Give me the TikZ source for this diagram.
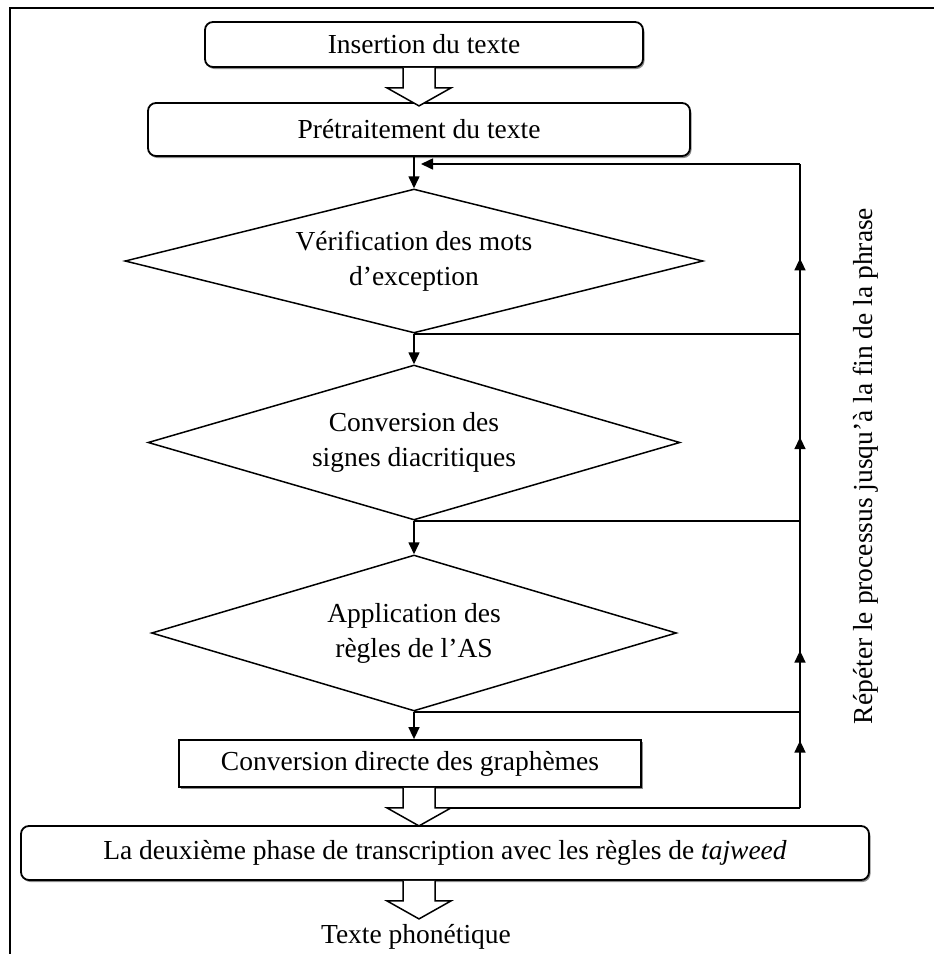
\documentclass[tikz,border=0pt]{standalone}
\usepackage{fontspec}
\setmainfont{Liberation Serif}
\usetikzlibrary{arrows.meta,calc,shapes.geometric,shadows}

\tikzset{
  txt/.style={font=\fontsize{27.5}{35}\selectfont},
  boxshadow/.style={drop shadow={shadow xshift=1.5pt, shadow yshift=-2pt, fill=black, opacity=0.45}},
  roundbox/.style={txt, draw, fill=white, line width=1.8pt, rounded corners=8pt, inner sep=0pt, boxshadow},
  plainbox/.style={txt, draw, fill=white, line width=1.8pt, inner sep=0pt, boxshadow},
  test/.style={txt, draw, line width=1.5pt, shape=diamond, inner sep=0pt, align=center},
  link/.style={line width=1.6pt},
  arr/.style={line width=1.6pt, -{Triangle[length=12pt,width=11pt]}},
  pics/hollow/.style={code={
    \draw[line width=1.5pt, fill=white]
      (-16,0) -- (-16,20) -- (-32,20) -- (0,38) -- (32,20) -- (16,20) -- (16,0);
    \coordinate (-rc) at (32,20);
  }}
}

\begin{document}
\begin{tikzpicture}[x=1pt,y=-1pt]
\useasboundingbox (0,0) rectangle (934,954);
\fill[white] (0,0) rectangle (934,954);

% outer frame
\draw[line width=2pt] (10,954) -- (10,8) -- (934,8);

% main column
\coordinate (axis) at (419,0);

\node[roundbox, minimum width=438, minimum height=45] (b1) at (424,44.5) {Insertion du texte};
\node[roundbox, minimum width=542, minimum height=53] (b2) at (419,129.5) {Prétraitement du texte};

\node[test, aspect=4.01, minimum width=578, minimum height=144] (d1) at (414,261)
  {Vérification des mots\\d’exception};
\node[test, aspect=3.43, minimum width=532, minimum height=155] (d2) at (414,442.5)
  {Conversion des\\signes diacritiques};
\node[test, aspect=3.37, minimum width=525, minimum height=156] (d3) at (414,633)
  {Application des\\règles de l’AS};

\node[plainbox, minimum width=462, minimum height=47] (b4) at (410,763.5)
  {Conversion directe des graphèmes};
\node[roundbox, minimum width=848, minimum height=54] (b5) at (445,853)
  {La deuxième phase de transcription avec les règles de \textit{tajweed}};

\node[txt, inner sep=0pt] (out) at (416,937) {Texte phonétique};

% block arrows between the stages
\pic (ha1) at (axis |- b1.south) {hollow};
\pic (ha2) at (axis |- b4.south) {hollow};
\pic (ha3) at (axis |- b5.south) {hollow};

% thin arrows through the tests
\draw[arr] (d1.north |- b2.south) -- (d1.north);
\draw[arr] (d1.south) -- (d2.north);
\draw[arr] (d2.south) -- (d3.north);
\draw[arr] (d3.south) -- (d3.south |- b4.north);

% loop back on the right
\coordinate (r0) at (800,164);
\coordinate (r1) at (r0 |- d1.south);
\coordinate (r2) at (r0 |- d2.south);
\coordinate (r3) at (r0 |- d3.south);
\coordinate (r4) at (r0 |- ha2-rc);

\draw[link] (d1.south) -- (r1);
\draw[link] (d2.south) -- (r2);
\draw[link] (d3.south) -- (r3);
\draw[link] (ha2-rc) -- (r4);
\draw[link] (r4) -- (r0);

\draw[arr] (r1) -- ($(r1)!0.444!(r0)$);
\draw[arr] (r2) -- ($(r2)!0.447!(r1)$);
\draw[arr] (r3) -- ($(r3)!0.32!(r2)$);
\draw[arr] (r4) -- ($(r4)!0.70!(r3)$);

\draw[arr] (r0) -- ([xshift=7pt]d1.north |- r0);

\node[txt, rotate=90, inner sep=0pt] (rep) at (866,466)
  {Répéter le processus jusqu’à la fin de la phrase};
\end{tikzpicture}
\end{document}
